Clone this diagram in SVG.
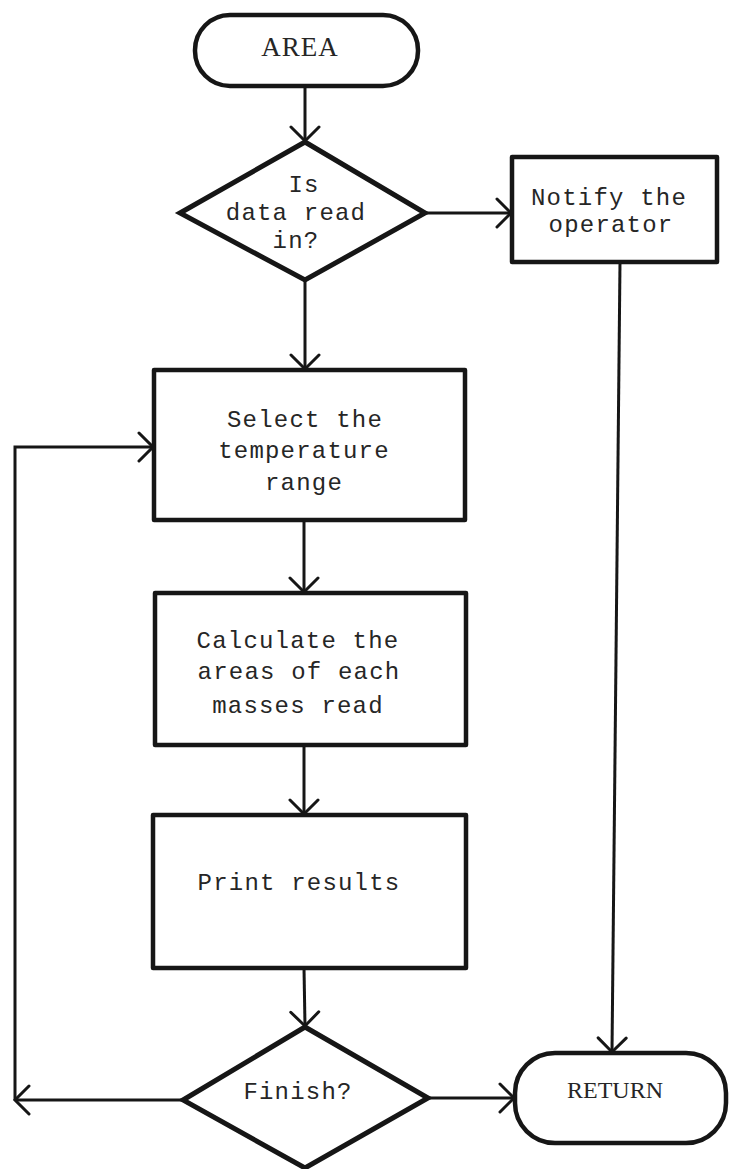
<svg xmlns="http://www.w3.org/2000/svg" width="731" height="1169" viewBox="0 0 731 1169">
  <style>
    .shape { fill: #ffffff; stroke: #161616; stroke-width: 4.5; stroke-linejoin: round; }
    .diam { fill: #ffffff; stroke: #161616; stroke-width: 5; stroke-linejoin: miter; }
    .wire { fill: none; stroke: #161616; stroke-width: 3; }
    .label { font-family: "Liberation Mono", "Courier New", monospace; font-size: 24px; letter-spacing: 1.2px; fill: #262626; text-anchor: middle; }
    .term { font-family: "Liberation Serif", "Times New Roman", serif; fill: #262626; text-anchor: middle; }
  </style>
  <defs>
    <marker id="vee" markerUnits="userSpaceOnUse" markerWidth="32" markerHeight="32" viewBox="-16 -16 32 32" refX="0" refY="0" orient="auto">
      <path d="M-14,-14 L0,0 L-14,14" fill="none" stroke="#161616" stroke-width="3" stroke-linecap="round" stroke-linejoin="miter"/>
    </marker>
  </defs>
  <rect width="731" height="1169" fill="#ffffff"/>

  <!-- connectors -->
  <g id="connectors">
    <path class="wire" d="M305,86 L305,141" marker-end="url(#vee)"/>
    <path class="wire" d="M425,213 L511,213" marker-end="url(#vee)"/>
    <path class="wire" d="M305,280 L305,369" marker-end="url(#vee)"/>
    <path class="wire" d="M304,520 L304,592" marker-end="url(#vee)"/>
    <path class="wire" d="M304,745 L304,814" marker-end="url(#vee)"/>
    <path class="wire" d="M304,968 L305,1026" marker-end="url(#vee)"/>
    <path class="wire" d="M620,262 L612,1052" marker-end="url(#vee)"/>
    <path class="wire" d="M428,1098 L514,1098" marker-end="url(#vee)"/>
    <path class="wire" d="M183,1100 L15,1100" marker-end="url(#vee)"/>
    <path class="wire" d="M15,1100 L15,447 L153,447" marker-end="url(#vee)"/>
  </g>

  <!-- start terminal -->
  <g id="area">
    <rect class="shape" x="195" y="15" width="223" height="71" rx="35" ry="35"/>
    <text class="term" x="300" y="56" font-size="27" letter-spacing="1">AREA</text>
  </g>

  <!-- data check decision -->
  <g id="data-check">
    <polygon class="diam" points="305,142 425,213 305,280 180,213"/>
    <text class="label" x="304" y="192">Is</text>
    <text class="label" x="296" y="220">data read</text>
    <text class="label" x="296" y="248">in?</text>
  </g>

  <!-- operator notice -->
  <g id="notify">
    <rect class="shape" x="512" y="157" width="205" height="105"/>
    <text class="label" x="609" y="205">Notify the</text>
    <text class="label" x="611" y="232">operator</text>
  </g>

  <!-- temperature range selection -->
  <g id="select">
    <rect class="shape" x="154" y="370" width="311" height="150"/>
    <text class="label" x="305" y="427">Select the</text>
    <text class="label" x="304" y="458">temperature</text>
    <text class="label" x="304" y="490">range</text>
  </g>

  <!-- area calculation -->
  <g id="calculate">
    <rect class="shape" x="155" y="593" width="311" height="152"/>
    <text class="label" x="298" y="648">Calculate the</text>
    <text class="label" x="299" y="679">areas of each</text>
    <text class="label" x="298" y="713">masses read</text>
  </g>

  <!-- output -->
  <g id="print">
    <rect class="shape" x="153" y="815" width="313" height="153"/>
    <text class="label" x="299" y="890">Print results</text>
  </g>

  <!-- loop decision -->
  <g id="finish">
    <polygon class="diam" points="305,1027 428,1098 305,1168 183,1100"/>
    <text class="label" x="298" y="1099">Finish?</text>
  </g>

  <!-- end terminal -->
  <g id="return">
    <rect class="shape" x="515" y="1053" width="211" height="90" rx="40" ry="40"/>
    <text class="term" x="615" y="1098" font-size="24">RETURN</text>
  </g>
</svg>
